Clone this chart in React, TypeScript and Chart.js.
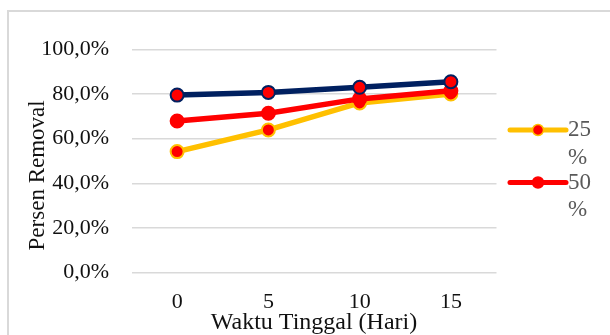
import React, { useEffect, useRef } from "react";
import { Chart, registerables } from "chart.js";

Chart.register(...registerables);

const categories = ["0", "5", "10", "15"];
const series25 = [54.2, 63.9, 76.0, 80.0];
const series50 = [67.9, 71.4, 77.8, 81.4];
const series75 = [79.5, 80.7, 83.0, 85.5];
const seriesLabels = ["25 %", "50 %", "75 %"];
const legendLabels = ["25 %", "50 %"];
const yTicks = [0, 20, 40, 60, 80, 100];

const FONT = "'Liberation Serif', 'Times New Roman', serif";

const legendPlugin = {
  id: "customLegend",
  afterDraw(chart: any) {
    const { ctx, chartArea } = chart;
    const items = legendLabels
      .map((l) => chart.data.datasets.find((d: any) => d.label === l))
      .filter(Boolean);
    const x0 = chartArea.right + 13.5;
    const lineLen = 56;
    const startY = 130;
    const gap = 52.5;
    ctx.save();
    items.forEach((d: any, i: number) => {
      const y = startY + i * gap;
      ctx.strokeStyle = d.borderColor;
      ctx.lineWidth = 5;
      ctx.lineCap = "round";
      ctx.beginPath();
      ctx.moveTo(x0, y);
      ctx.lineTo(x0 + lineLen, y);
      ctx.stroke();
      ctx.beginPath();
      ctx.arc(x0 + lineLen / 2, y, 5.5, 0, Math.PI * 2);
      ctx.fillStyle = d.pointBackgroundColor;
      ctx.fill();
      ctx.lineWidth = 1.5;
      ctx.strokeStyle = d.pointBorderColor;
      ctx.stroke();
      ctx.fillStyle = "#595959";
      ctx.font = `23px ${FONT}`;
      ctx.textAlign = "left";
      ctx.textBaseline = "middle";
      const parts = String(d.label).split(" ");
      parts.forEach((p: string, j: number) => {
        ctx.fillText(p, x0 + lineLen + 2, y + j * 27.5);
      });
    });
    ctx.restore();
  },
};

export default function App() {
  const ref = useRef<HTMLCanvasElement | null>(null);

  useEffect(() => {
    if (!ref.current) return;
    const chart = new Chart(ref.current, {
      type: "line",
      data: {
        labels: categories,
        datasets: [
          {
            label: seriesLabels[2],
            data: series75,
            borderColor: "#002060",
            backgroundColor: "#002060",
            pointBackgroundColor: "#FF0000",
            pointBorderColor: "#002060",
            borderWidth: 5.5,
            pointRadius: 6.5,
            pointBorderWidth: 2,
          } as any,
          {
            label: seriesLabels[1],
            data: series50,
            borderColor: "#FF0000",
            backgroundColor: "#FF0000",
            pointBackgroundColor: "#FF0000",
            pointBorderColor: "#FF0000",
            borderWidth: 5.5,
            pointRadius: 6.5,
            pointBorderWidth: 2,
          } as any,
          {
            label: seriesLabels[0],
            data: series25,
            borderColor: "#FFC000",
            backgroundColor: "#FFC000",
            pointBackgroundColor: "#FF0000",
            pointBorderColor: "#FFC000",
            borderWidth: 5.5,
            pointRadius: 6.5,
            pointBorderWidth: 2,
          } as any,
        ],
      },
      options: {
        responsive: false,
        maintainAspectRatio: false,
        animation: false,
        layout: { padding: { top: 49.3, right: 113.5, left: 0, bottom: 0 } },
        plugins: {
          legend: { display: false },
          tooltip: { enabled: false },
        },
        scales: {
          x: {
            type: "category",
            offset: true,
            grid: { display: false, drawTicks: false },
            border: { display: false },
            ticks: {
              color: "#111",
              font: { family: FONT, size: 22 },
              padding: 16,
            },
            title: {
              display: true,
              text: "Waktu Tinggal (Hari)",
              color: "#111",
              font: { family: FONT, size: 24 },
              padding: { top: 0, bottom: 22.6 },
            },
            afterFit: (scale: any) => {
              scale.height = 360 - 272.7;
            },
          },
          y: {
            min: 0,
            max: 100,
            afterBuildTicks: (scale: any) => {
              scale.ticks = yTicks.map((v) => ({ value: v }));
            },
            grid: { color: "#d9d9d9", lineWidth: 1.5, drawTicks: false },
            border: { display: false },
            ticks: {
              color: "#111",
              font: { family: FONT, size: 22 },
              padding: 22.5,
              callback: (v: any) => `${Number(v).toFixed(1).replace(".", ",")}%`,
            },
            title: {
              display: true,
              text: "Persen Removal     ",
              color: "#111",
              font: { family: FONT, size: 23 },
              padding: { top: 24.2, bottom: 0 },
            },
            afterFit: (scale: any) => {
              scale.width = 131.5;
            },
          },
        },
      } as any,
      plugins: [legendPlugin],
    });
    return () => chart.destroy();
  }, []);

  return (
    <div
      style={{
        position: "fixed",
        left: 0,
        top: 0,
        width: 610,
        height: 335,
        overflow: "hidden",
        background: "#fff",
      }}
    >
      <div
        style={{
          position: "absolute",
          left: 7,
          top: 10,
          width: 800,
          height: 500,
          border: "2px solid #d9d9d9",
          boxSizing: "border-box",
        }}
      />
      <canvas
        ref={ref}
        width={610}
        height={360}
        style={{ position: "absolute", left: 0, top: 0, width: 610, height: 360 }}
      />
    </div>
  );
}
